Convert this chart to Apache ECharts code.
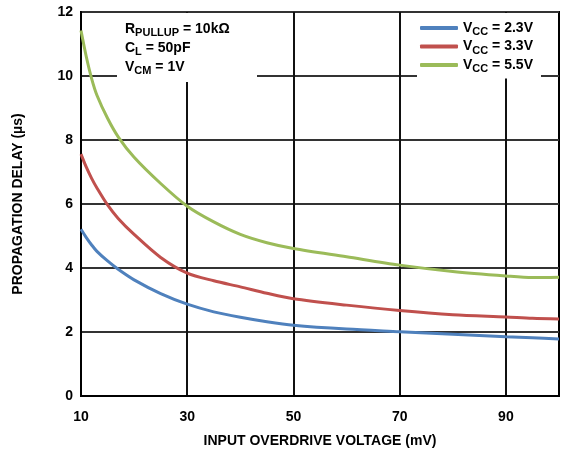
<!DOCTYPE html>
<html>
<head>
<meta charset="utf-8">
<script src="https://cdn.jsdelivr.net/npm/echarts@6/dist/echarts.min.js"></script>
<style>
  html, body { margin: 0; padding: 0; background: #fff; }
  #chart { width: 563px; height: 452px; }
</style>
</head>
<body>
<div id="chart"></div>
<script>
// input overdrive (mV)
const overdrive = [10, 11, 12, 13, 15, 17, 20, 25, 30, 35, 40, 45, 50, 60, 70, 80, 90, 95, 100];
// propagation delay (us) per supply
const vcc23 = [5.21, 4.95, 4.72, 4.52, 4.22, 3.96, 3.63, 3.2, 2.87, 2.63, 2.46, 2.32, 2.21, 2.09, 2.01, 1.93, 1.85, 1.82, 1.78];
const vcc33 = [7.56, 7.15, 6.8, 6.5, 5.97, 5.55, 5.05, 4.33, 3.84, 3.6, 3.41, 3.21, 3.04, 2.84, 2.67, 2.54, 2.47, 2.43, 2.41];
const vcc55 = [11.42, 10.6, 9.92, 9.4, 8.68, 8.1, 7.46, 6.64, 5.93, 5.44, 5.05, 4.79, 4.61, 4.35, 4.09, 3.89, 3.75, 3.7, 3.71];

const supplies = ['2.3V', '3.3V', '5.5V'];
const colors = ['#4f81bd', '#c0504d', '#9bbb59'];
const xLabels = [10, 30, 50, 70, 90];
const xGrid = [30, 50, 70, 90];

const FONT = '"Liberation Sans", Arial, sans-serif';

const chart = echarts.init(document.getElementById('chart'), null, { renderer: 'canvas' });

const seriesData = [vcc23, vcc33, vcc55];
const series = seriesData.map((vals, i) => ({
  name: 'VCC = ' + supplies[i],
  type: 'line',
  data: overdrive.map((x, j) => [x, vals[j]]),
  smooth: 0.3,
  showSymbol: false,
  lineStyle: { color: colors[i], width: 3 },
  itemStyle: { color: colors[i] },
  z: 3
}));

// subscript is pushed down with top padding
const rich = {
  m: { fontFamily: FONT, fontWeight: 'bold', fontSize: 14, color: '#000', lineHeight: 19 },
  s: { fontFamily: FONT, fontWeight: 'bold', fontSize: 11, color: '#000', padding: [8, 0, 0, 0] }
};

chart.setOption({
  animation: false,
  backgroundColor: '#fff',
  grid: {
    left: 81, right: 4, top: 12, bottom: 56,
    outerBoundsMode: 'none',
    show: true, borderColor: '#000', borderWidth: 2
  },
  xAxis: {
    type: 'value',
    min: 10, max: 100,
    name: 'INPUT OVERDRIVE VOLTAGE (mV)',
    nameLocation: 'middle',
    nameGap: 38,
    nameTextStyle: { fontFamily: FONT, fontWeight: 'bold', fontSize: 14, color: '#000' },
    axisLine: { lineStyle: { color: '#000', width: 2 } },
    axisTick: { show: false, customValues: xGrid },
    axisLabel: {
      customValues: xLabels,
      margin: 14,
      fontFamily: FONT, fontWeight: 'bold', fontSize: 14, color: '#000'
    },
    splitLine: { show: true, lineStyle: { color: '#111', width: 2 } }
  },
  yAxis: {
    type: 'value',
    min: 0, max: 12, interval: 2,
    name: 'PROPAGATION DELAY (µs)',
    nameLocation: 'middle',
    nameGap: 56,
    nameTextStyle: { fontFamily: FONT, fontWeight: 'bold', fontSize: 14, color: '#000' },
    axisLine: { show: true, lineStyle: { color: '#000', width: 2 } },
    axisTick: { show: false },
    axisLabel: { margin: 8, fontFamily: FONT, fontWeight: 'bold', fontSize: 14, color: '#000' },
    splitLine: { show: true, lineStyle: { color: '#333', width: 2 } }
  },
  legend: {
    orient: 'vertical',
    left: 417, top: 13,
    padding: [8, 8, 4, 3],
    backgroundColor: '#fff',
    itemGap: 2,
    itemWidth: 38,
    itemHeight: 4,
    icon: 'roundRect',
    data: series.map((s, i) => ({ name: s.name, itemStyle: { color: colors[i] } })),
    formatter: name => '{m|V}{s|CC}{m| = ' + name.split('= ')[1] + '}',
    textStyle: { rich }
  },
  graphic: [
    {
      type: 'rect', z: 10,
      shape: { x: 117, y: 13, width: 140, height: 69 },
      style: { fill: '#fff' }
    },
    {
      type: 'text', z: 11, left: 125, top: 22,
      style: {
        text: '{m|R}{s|PULLUP}{m| = 10kΩ}\n{m|C}{s|L}{m| = 50pF}\n{m|V}{s|CM}{m| = 1V}',
        rich
      }
    }
  ],
  series
});
</script>
</body>
</html>
